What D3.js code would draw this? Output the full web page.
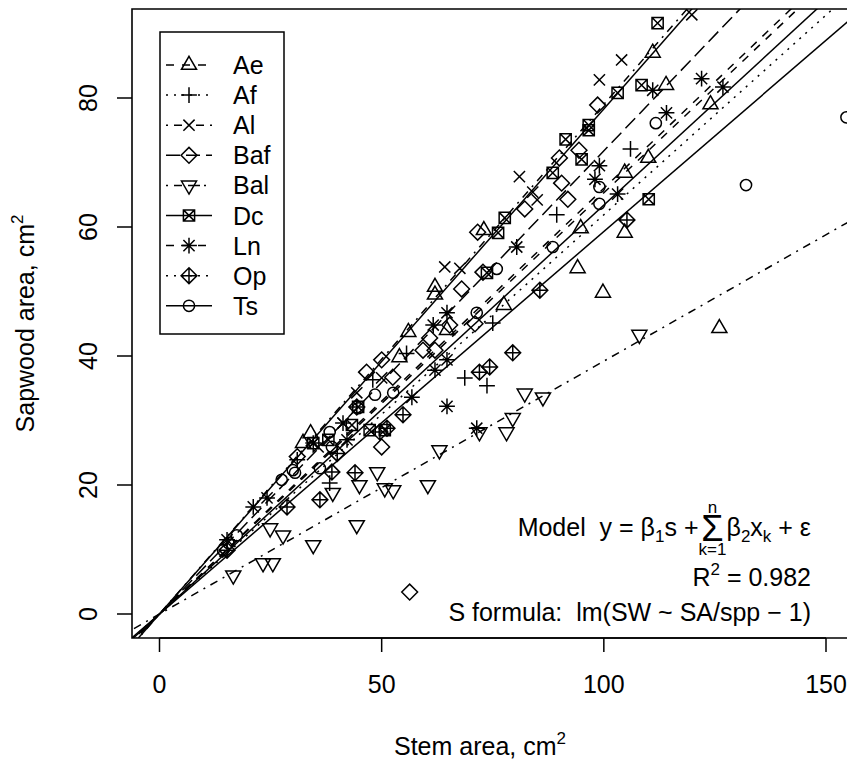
<!DOCTYPE html>
<html>
<head>
<meta charset="utf-8">
<script src="https://cdn.jsdelivr.net/npm/d3@7"></script>
<style>
  body { margin: 0; background: #fff; }
  text { font-family: "Liberation Sans", Arial, sans-serif; fill: #000; white-space: pre; }
</style>
</head>
<body>
<svg id="chart" width="847" height="760"></svg>
<script>
// species, fitted slopes (lm(SW ~ SA/spp - 1)) and the raw points
const species = ["Ae", "Af", "Al", "Baf", "Bal", "Dc", "Ln", "Op", "Ts"]
const slopes = [0.653, 0.619, 0.79, 0.718, 0.392, 0.783, 0.66, 0.593, 0.634]

const aePts = [[111,87],[114,82],[124,79],[110,70.7],[104.7,68.4],[94.8,59.8],[94.1,53.6],[99.8,49.8],
  [104.7,59.1],[73,59.5],[62,50.7],[62,49.5],[126,44.3],[77.5,47.9],[56,43.7],[54,39.8],[64.7,44],[34,28],[32.3,26.5]]
const afPts = [[106,72.1],[89.4,61.9],[75,45.1],[68.7,36.6],[73.7,35.4],[55.6,40.4],[48,36.3],[31,23.9],[38.3,20.3]]
const alPts = [[119.8,92.9],[104,85.9],[99,82.8],[81,67.8],[84,65.4],[85,64.2],[64.2,53.8],[67.6,53.6],
  [50,36.6],[44.4,34.3],[41.3,29.6],[35.7,25.9]]
const bafPts = [[98.6,78.9],[90.5,66.8],[91.9,64.3],[94.4,71.9],[90,70.7],[82.2,62.8],[71.6,59.2],[68,50.4],
  [72.8,53],[50,39.4],[46.6,37.5],[52.5,36.7],[60.8,42.8],[65.3,44.8],[71,45],[59.3,40.9],[50,25.9],
  [31,24.4],[56.3,3.4],[62,40.9]]
const balPts = [[108,43.3],[82.2,34.2],[86.3,33.6],[79.5,30.4],[78.1,28.2],[72,28.2],[63,25.4],[60.4,20],
  [52.6,19.2],[50.7,19.5],[49,22],[45,20],[44.4,13.8],[39,18.8],[34.6,10.7],[27.8,12.2],[24.9,13.3],
  [23.3,7.9],[25.5,7.9],[16.6,6.0]]
const dcPts = [[112.1,91.6],[103.1,80.8],[108.5,82],[96.6,75.8],[96.6,75],[91.4,73.6],[95,70.5],[88.5,68.4],
  [110.1,64.3],[77.7,61.4],[76.2,59.1],[73.7,52.9],[44.7,32.1],[43.3,29.3],[47.3,28.5],[50.7,28.5],[38,27],[34.6,26.5]]
const lnPts = [[122,83],[126.8,81.7],[111,81.2],[114.1,77.7],[99,69.5],[98,67.4],[103.1,65.1],[80.4,56.9],
  [64.7,46.7],[61.6,44.8],[64.7,39.4],[62,37.8],[56.8,33.6],[64.7,32.2],[71.4,28.8],[41.3,29.6],[42.2,27],
  [34.6,26.5],[21.1,16.6],[24.2,18],[15.2,11.5]]
const opPts = [[105.2,61.1],[85.6,50.2],[79.5,40.5],[74.3,38.3],[72,37.5],[54.8,30.9],[51.2,28.8],[49.6,28.2],
  [44,21.9],[38.8,22],[40,24.9],[36.1,17.7],[28.7,16.6],[15.2,9.9],[44.4,32.1]]
const tsPts = [[111.7,76.1],[99,66.2],[99,63.6],[88.5,56.9],[75.9,53.5],[132,66.5],[154.6,77],[71.4,46.7],
  [52.6,34.3],[48.5,34],[44.7,31.9],[38.8,25.9],[36.1,22.6],[30.5,21.9],[27.5,20.8],[30,22.3],[38.3,28.2],
  [17.4,12.2],[14.3,9.9],[15.5,11]]
const points = [aePts, afPts, alPts, bafPts, balPts, dcPts, lnPts, opPts, tsPts]

const xTicks = [0, 50, 100, 150]
const yTicks = [0, 20, 40, 60, 80]

// styles (R pch / lty look-alikes)
const pch = ["triUp", "plus", "cross", "diamond", "triDown", "squareX", "asterisk", "diamondPlus", "circle"]
const legendDash = ["8,8", "2,6", "2,6,8,6", "14,6", "2,6,8,6,12,4", null, "8,8", "2,6", null]
const plotDash = ["8,8", "2,6", "2,6,8,6", "14,6", "2,6,8,6", null, "8,8", null, null]

const svg = d3.select("#chart")
const plot = { left: 132, top: 9, right: 880, bottom: 638 }
const x = d3.scaleLinear().domain([0, 150]).range([159.5, 826])
const y = d3.scaleLinear().domain([0, 80]).range([614, 98])

const symbolPath = (type, r) => {
	const s = Math.SQRT2 * r
	const t0 = 1.5551 * r, t1 = 1.3468 * r, t2 = 0.7776 * r
	switch (type) {
		case "circle": return `M${r},0A${r},${r} 0 1 1 ${-r},0A${r},${r} 0 1 1 ${r},0Z`
		case "triUp": return `M0,${-t0}L${t1},${t2}L${-t1},${t2}Z`
		case "triDown": return `M0,${t0}L${t1},${-t2}L${-t1},${-t2}Z`
		case "plus": return `M${-s},0H${s}M0,${-s}V${s}`
		case "cross": return `M${-r},${-r}L${r},${r}M${-r},${r}L${r},${-r}`
		case "diamond": return `M${-s},0L0,${-s}L${s},0L0,${s}Z`
		case "squareX": return `M${-r},${-r}H${r}V${r}H${-r}ZM${-r},${-r}L${r},${r}M${-r},${r}L${r},${-r}`
		case "asterisk": return `M${-r},${-r}L${r},${r}M${-r},${r}L${r},${-r}M${-s},0H${s}M0,${-s}V${s}`
		case "diamondPlus": return `M${-s},0L0,${-s}L${s},0L0,${s}ZM${-s},0H${s}M0,${-s}V${s}`
	}
}
const R = 5.6

svg.append("clipPath").attr("id", "clip")
   .append("rect")
   .attr("x", plot.left).attr("y", plot.top)
   .attr("width", plot.right - plot.left).attr("height", plot.bottom - plot.top)

// regression lines through the origin
const lineGen = d3.line().x(d => x(d[0])).y(d => y(d[1]))
const xLo = x.invert(plot.left - 5), xHi = x.invert(plot.right)
const lines = svg.append("g").attr("clip-path", "url(#clip)")
species.forEach((sp, i) => {
	lines.append("path")
	     .attr("d", lineGen([[xLo, slopes[i] * xLo], [xHi, slopes[i] * xHi]]))
	     .attr("fill", "none")
	     .attr("stroke", "#000")
	     .attr("stroke-width", 1.5)
	     .attr("stroke-dasharray", plotDash[i])
})

// points
const pts = svg.append("g")
species.forEach((sp, i) => {
	pts.selectAll(null)
	   .data(points[i])
	   .join("path")
	   .attr("transform", d => `translate(${x(d[0])},${y(d[1])})`)
	   .attr("d", symbolPath(pch[i], R))
	   .attr("fill", "none")
	   .attr("stroke", "#000")
	   .attr("stroke-width", 1.5)
})

// box (right edge falls outside the picture)
svg.append("path")
   .attr("d", `M${plot.right},${plot.top}H${plot.left}V${plot.bottom}H${plot.right}`)
   .attr("fill", "none").attr("stroke", "#000").attr("stroke-width", 1.6)

// axes
const xAxis = svg.append("g")
xAxis.append("path").attr("d", `M${x(0)},${plot.bottom}H${x(150)}`).attr("stroke", "#000").attr("stroke-width", 1.5)
xAxis.selectAll("line").data(xTicks).join("line")
     .attr("x1", d => x(d)).attr("x2", d => x(d))
     .attr("y1", plot.bottom).attr("y2", plot.bottom + 14)
     .attr("stroke", "#000").attr("stroke-width", 1.5)
xAxis.selectAll("text").data(xTicks).join("text")
     .attr("x", d => x(d)).attr("y", 693)
     .attr("text-anchor", "middle").attr("font-size", 25)
     .text(d => d)

const yAxis = svg.append("g")
yAxis.selectAll("line").data(yTicks).join("line")
     .attr("x1", plot.left - 15).attr("x2", plot.left)
     .attr("y1", d => y(d)).attr("y2", d => y(d))
     .attr("stroke", "#000").attr("stroke-width", 1.5)
yAxis.selectAll("text").data(yTicks).join("text")
     .attr("transform", d => `translate(97,${y(d)}) rotate(-90)`)
     .attr("text-anchor", "middle").attr("font-size", 25)
     .text(d => d)

// axis titles
const xTitle = svg.append("text").attr("x", 480).attr("y", 755)
   .attr("text-anchor", "middle").attr("font-size", 25)
xTitle.append("tspan").text("Stem area, cm")
xTitle.append("tspan").attr("font-size", 17).attr("dy", -11).text("2")

const yTitle = svg.append("text").attr("transform", `translate(34,${(plot.top + plot.bottom) / 2}) rotate(-90)`)
   .attr("text-anchor", "middle").attr("font-size", 25)
yTitle.append("tspan").text("Sapwood area, cm")
yTitle.append("tspan").attr("font-size", 17).attr("dy", -11).text("2")

// legend
const leg = svg.append("g")
leg.append("rect").attr("x", 160).attr("y", 32).attr("width", 124).attr("height", 302)
   .attr("fill", "#fff").attr("stroke", "#000").attr("stroke-width", 1.5)
species.forEach((sp, i) => {
	const ly = 65 + i * 30.1
	leg.append("line").attr("x1", 166).attr("x2", 212).attr("y1", ly).attr("y2", ly)
	   .attr("stroke", "#000").attr("stroke-width", 1.5).attr("stroke-dasharray", legendDash[i])
	leg.append("path").attr("transform", `translate(189,${ly})`)
	   .attr("d", symbolPath(pch[i], R))
	   .attr("fill", "none").attr("stroke", "#000").attr("stroke-width", 1.5)
	leg.append("text").attr("x", 233).attr("y", ly + 9).attr("font-size", 25).text(sp)
})

// model annotation
const ann = svg.append("g")
const rightX = 811, eqY = 536
const eqR = ann.append("text").attr("x", rightX).attr("y", eqY).attr("text-anchor", "end").attr("font-size", 25)
eqR.append("tspan").text("β")
eqR.append("tspan").attr("font-size", 17).attr("dy", 6).text("2")
eqR.append("tspan").attr("dy", -6).text("x")
eqR.append("tspan").attr("font-size", 17).attr("dy", 6).text("k")
eqR.append("tspan").attr("dy", -6).text(" + ε")
const sigX = rightX - eqR.node().getComputedTextLength() - 14
ann.append("text").attr("x", sigX).attr("y", eqY + 5).attr("text-anchor", "middle").attr("font-size", 36).text("Σ")
ann.append("text").attr("x", sigX).attr("y", eqY - 23).attr("text-anchor", "middle").attr("font-size", 17).text("n")
ann.append("text").attr("x", sigX).attr("y", eqY + 19).attr("text-anchor", "middle").attr("font-size", 17).text("k=1")
const eqL = ann.append("text").attr("x", sigX - 14).attr("y", eqY).attr("text-anchor", "end").attr("font-size", 25)
eqL.append("tspan").text("Model  y = β")
eqL.append("tspan").attr("font-size", 17).attr("dy", 6).text("1")
eqL.append("tspan").attr("dy", -6).text("s +")

const r2 = ann.append("text").attr("x", rightX).attr("y", 586).attr("text-anchor", "end").attr("font-size", 25)
r2.append("tspan").text("R")
r2.append("tspan").attr("font-size", 17).attr("dy", -11).text("2")
r2.append("tspan").attr("dy", 11).text(" = 0.982")

ann.append("text").attr("x", rightX).attr("y", 621).attr("text-anchor", "end").attr("font-size", 25)
   .text("S formula:  lm(SW ~ SA/spp − 1)")
</script>
</body>
</html>
